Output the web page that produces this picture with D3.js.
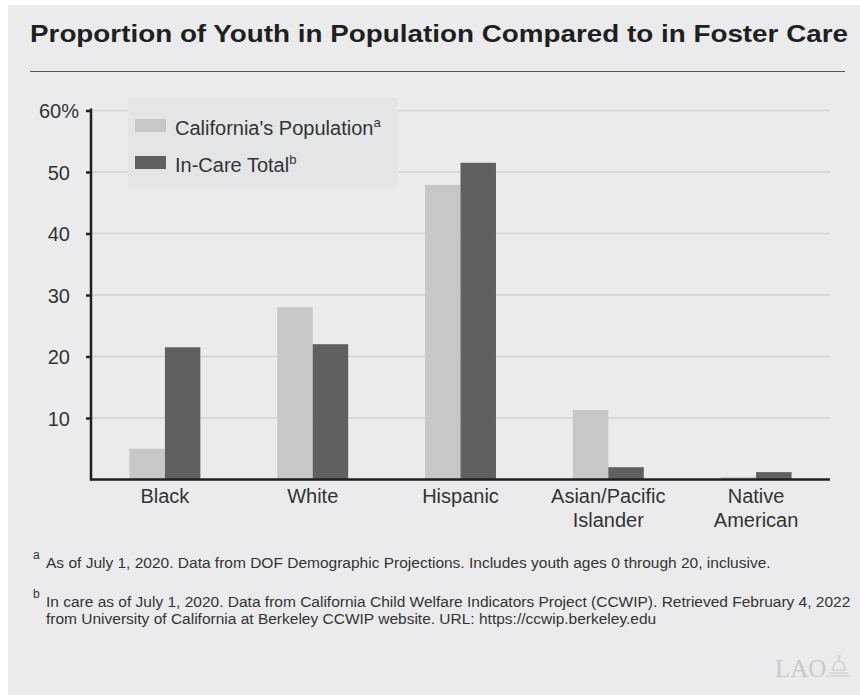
<!DOCTYPE html>
<html>
<head>
<meta charset="utf-8">
<script src="https://cdn.jsdelivr.net/npm/d3@7"></script>
<style>
  html, body { margin: 0; padding: 0; background: #ffffff; }
  svg { display: block; font-family: "Liberation Sans", Arial, sans-serif; }
</style>
</head>
<body>
<div id="chartDiv"></div>
<script>
// data
var categories = [["Black"], ["White"], ["Hispanic"], ["Asian/Pacific", "Islander"], ["Native", "American"]];
var seriesNames = ["California's Population", "In-Care Total"];
var seriesSup = ["a", "b"];
var populationValues = [5.0, 28.0, 47.9, 11.3, 0.4];
var inCareValues = [21.5, 22.0, 51.5, 2.0, 1.2];
var yTicks = [10, 20, 30, 40, 50, 60];

var width = 860, height = 695;
var colors = ["#c6c7c9", "#606062"];

var svg = d3.select('#chartDiv').append('svg')
  .attr('width', width)
  .attr('height', height);

// panel background
svg.append('rect')
  .attr('x', 8).attr('y', 5)
  .attr('width', width - 8).attr('height', height - 5)
  .attr('fill', '#ebebed');

// title + rule
svg.append('text')
  .attr('x', 30).attr('y', 42)
  .attr('font-size', 24.5).attr('font-weight', 'bold')
  .attr('fill', '#1f1f1f')
  .attr('textLength', 818).attr('lengthAdjust', 'spacingAndGlyphs')
  .text('Proportion of Youth in Population Compared to in Foster Care');
svg.append('line')
  .attr('x1', 30).attr('x2', 845)
  .attr('y1', 71.5).attr('y2', 71.5)
  .attr('stroke', '#555').attr('stroke-width', 1.2);

var plotLeft = 91, plotRight = 830, plotTop = 110.5, plotBottom = 479.5;

var x0 = d3.scaleBand()
  .domain(d3.range(categories.length))
  .range([plotLeft, plotRight])
  .paddingInner(0.52)
  .paddingOuter(0.26);
var x1 = d3.scaleBand()
  .domain([0, 1])
  .range([0, x0.bandwidth()]);
var y = d3.scaleLinear().domain([0, 60]).range([plotBottom, plotTop]);

// gridlines
svg.append('g').selectAll('line')
  .data(yTicks)
  .enter().append('line')
  .attr('x1', plotLeft).attr('x2', plotRight)
  .attr('y1', function (d) { return y(d); })
  .attr('y2', function (d) { return y(d); })
  .attr('stroke', '#d2d2d4').attr('stroke-width', 1.5);

// bars
var rows = populationValues.map(function (v, i) { return [v, inCareValues[i]]; });
var groups = svg.append('g').selectAll('g')
  .data(rows)
  .enter().append('g')
  .attr('transform', function (d, i) { return 'translate(' + x0(i) + ',0)'; });
groups.selectAll('rect')
  .data(function (d) { return d; })
  .enter().append('rect')
  .attr('x', function (d, j) { return x1(j); })
  .attr('width', x1.bandwidth())
  .attr('y', function (d) { return y(d); })
  .attr('height', function (d) { return y(0) - y(d); })
  .attr('fill', function (d, j) { return colors[j]; });

// y axis (top label carries the % sign and sits closer to the axis)
var yAxis = svg.append('g')
  .attr('transform', 'translate(' + plotLeft + ',0)')
  .call(d3.axisLeft(y).tickValues(yTicks).tickSize(5).tickPadding(16)
    .tickFormat(function (d) { return d === 60 ? d + '%' : d; }));
yAxis.select('.domain').remove();
yAxis.selectAll('.tick line').attr('stroke', '#231f20').attr('stroke-width', 2.5);
yAxis.selectAll('.tick text')
  .attr('font-size', 20).attr('fill', '#333')
  .attr('font-family', '"Liberation Sans", Arial, sans-serif')
  .attr('dy', '0.36em');
yAxis.selectAll('.tick').filter(function (d) { return d === 60; })
  .select('text').attr('x', -12);

svg.append('line')
  .attr('x1', plotLeft).attr('x2', plotLeft)
  .attr('y1', plotTop - 2).attr('y2', plotBottom + 1)
  .attr('stroke', '#231f20').attr('stroke-width', 2.5);
svg.append('line')
  .attr('x1', plotLeft - 1).attr('x2', plotRight)
  .attr('y1', plotBottom).attr('y2', plotBottom)
  .attr('stroke', '#231f20').attr('stroke-width', 2.5);

// x labels
var xLabels = svg.append('g').selectAll('text')
  .data(categories)
  .enter().append('text')
  .attr('x', function (d, i) { return x0(i) + x0.bandwidth() / 2; })
  .attr('y', 503)
  .attr('text-anchor', 'middle')
  .attr('font-size', 20).attr('fill', '#333');
xLabels.selectAll('tspan')
  .data(function (d) { return d; })
  .enter().append('tspan')
  .attr('x', function () { return d3.select(this.parentNode).attr('x'); })
  .attr('dy', function (d, i) { return i === 0 ? 0 : 24; })
  .text(function (d) { return d; });

// legend
svg.append('rect')
  .attr('x', 128).attr('y', 98)
  .attr('width', 270).attr('height', 90)
  .attr('fill', '#e4e5e7');
var legend = svg.append('g').selectAll('g')
  .data(seriesNames)
  .enter().append('g')
  .attr('transform', function (d, i) { return 'translate(135,' + (119 + i * 37) + ')'; });
legend.append('rect')
  .attr('width', 31).attr('height', 13)
  .attr('fill', function (d, i) { return colors[i]; });
var legendText = legend.append('text')
  .attr('x', 40).attr('y', 16)
  .attr('font-size', 20).attr('fill', '#333');
legendText.append('tspan').text(function (d) { return d; });
legendText.append('tspan')
  .attr('dy', -8).attr('font-size', 13)
  .text(function (d, i) { return seriesSup[i]; });

// footnotes
var notes = svg.append('g').attr('font-size', 15.5).attr('fill', '#333');
notes.append('text').attr('x', 33).attr('y', 559).attr('font-size', 12).text('a');
notes.append('text').attr('x', 46).attr('y', 568)
  .text('As of July 1, 2020. Data from DOF Demographic Projections. Includes youth ages 0 through 20, inclusive.');
notes.append('text').attr('x', 33).attr('y', 598).attr('font-size', 12).text('b');
notes.append('text').attr('x', 46).attr('y', 607)
  .text('In care as of July 1, 2020. Data from California Child Welfare Indicators Project (CCWIP). Retrieved February 4, 2022');
notes.append('text').attr('x', 46).attr('y', 624)
  .text('from University of California at Berkeley CCWIP website. URL: https://ccwip.berkeley.edu');

// LAO mark
var logo = svg.append('g').attr('fill', '#c9c9cb').attr('stroke', '#c9c9cb');
logo.append('text')
  .attr('x', 775).attr('y', 677)
  .attr('stroke', 'none')
  .attr('font-family', '"Liberation Serif", "DejaVu Serif", serif')
  .attr('font-size', 25)
  .text('LAO');
logo.append('path')
  .attr('fill', 'none').attr('stroke-width', 1.2)
  .attr('d', 'M829,673 L848,673 M831,670 L846,670 M833,670 Q833,662 839,661 Q845,662 845,670 M839,661 L839,656 M837,656 L841,656 M826,676 L850,676');
</script>
</body>
</html>
